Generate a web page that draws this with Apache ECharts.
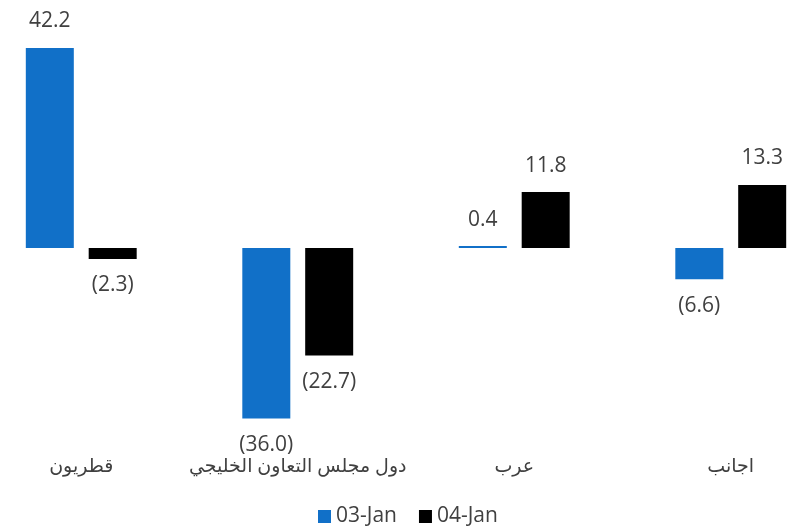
<!DOCTYPE html>
<html>
<head>
<meta charset="utf-8">
<script src="https://cdn.jsdelivr.net/npm/echarts@6/dist/echarts.min.js"></script>
<style>
  html, body { margin: 0; padding: 0; background: #fff; }
  #chart { width: 789px; height: 530px; }
</style>
</head>
<body>
<div id="chart"></div>
<script>
/* 数据 */
var categories = ['قطريون', 'دول مجلس التعاون الخليجي', 'عرب', 'اجانب'];
var jan03 = [42.2, -36.0, 0.4, -6.6];
var jan04 = [-2.3, -22.7, 11.8, 13.3];
var seriesNames = ['03-Jan', '04-Jan'];

(function () {
  var myEchart = echarts.init(document.getElementById('chart'));
  var font = '"Open Sans", "DejaVu Sans", sans-serif';

  // 负数放括号，标签放在柱子外侧
  function fmt(v) {
    return v < 0 ? '(' + Math.abs(v).toFixed(1) + ')' : v.toFixed(1);
  }
  function withLabels(arr) {
    return arr.map(function (v) {
      return {
        value: v,
        label: { position: v < 0 ? 'bottom' : 'top' }
      };
    });
  }
  var labelStyle = {
    show: true,
    distance: 16,
    color: '#404040',
    fontSize: 21,
    fontFamily: font,
    formatter: function (p) { return fmt(p.value); }
  };

  var option = {
    animation: false,
    textStyle: { fontFamily: font },
    legend: {
      left: 318,
      top: 506,
      padding: 0,
      itemWidth: 13,
      itemHeight: 13,
      itemGap: 22,
      itemTextGap: 4,
      icon: 'rect',
      textStyle: { color: '#404040', fontSize: 21, fontFamily: font },
      data: seriesNames
    },
    grid: {
      left: -27,
      width: 866,
      top: 48,
      bottom: 111.4,
      outerBoundsMode: 'none'
    },
    xAxis: {
      type: 'category',
      data: categories,
      axisLine: { show: false },
      axisTick: { show: false },
      axisLabel: {
        interval: 0,
        color: '#404040',
        fontSize: 19,
        fontFamily: font,
        margin: 38
      }
    },
    yAxis: {
      type: 'value',
      min: -36,
      max: 42.2,
      show: false,
      splitLine: { show: false }
    },
    series: [
      {
        name: seriesNames[0],
        type: 'bar',
        data: withLabels(jan03),
        barWidth: 48,
        barGap: '31%',
        itemStyle: { color: '#1170c8' },
        label: labelStyle
      },
      {
        name: seriesNames[1],
        type: 'bar',
        data: withLabels(jan04),
        barWidth: 48,
        itemStyle: { color: '#000000' },
        label: labelStyle
      }
    ]
  };
  myEchart.setOption(option);
  window.addEventListener('resize', function () {
    myEchart.resize();
  });
})();
</script>
</body>
</html>
